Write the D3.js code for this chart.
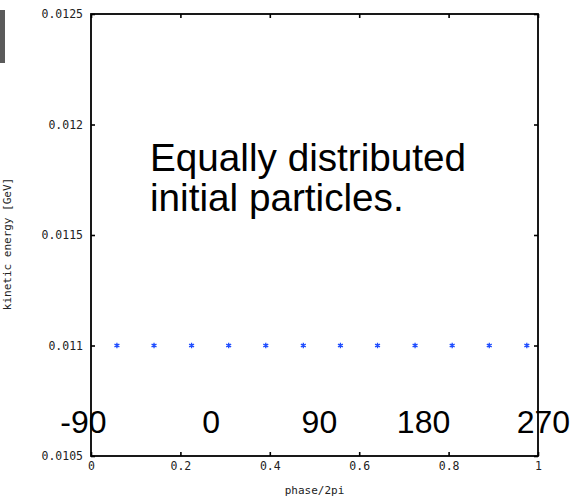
<!DOCTYPE html>
<html>
<head>
<meta charset="utf-8">
<script src="https://cdn.jsdelivr.net/npm/d3@7"></script>
<style>
  body { margin: 0; background: #fff; }
  .tick text { font-family: "DejaVu Sans Mono", monospace; font-size: 11.5px; fill: #222; }
  .axTitle { font-family: "DejaVu Sans Mono", monospace; font-size: 11px; fill: #222; }
  .big { font-family: "Liberation Sans", Arial, sans-serif; fill: #000; }
</style>
</head>
<body>
<div id="chart"></div>
<script>
// particle phases (phase/2pi) and kinetic energy [GeV]
var phase = [0.058, 0.141, 0.225, 0.308, 0.391, 0.475, 0.558, 0.641, 0.725, 0.808, 0.891, 0.975];
var energy = [0.011, 0.011, 0.011, 0.011, 0.011, 0.011, 0.011, 0.011, 0.011, 0.011, 0.011, 0.011];

var xTicks = [0, 0.2, 0.4, 0.6, 0.8, 1];
var xTickLabels = ["0", "0.2", "0.4", "0.6", "0.8", "1"];
var yTicks = [0.0105, 0.011, 0.0115, 0.012, 0.0125];
var yTickLabels = ["0.0105", "0.011", "0.0115", "0.012", "0.0125"];

// degree labels along the bottom, anchored at a phase value
var degLabels = ["-90", "0", "90", "180", "270"];
var degAnchor = [-0.017, 0.269, 0.511, 0.744, 1.012];

var width = 572, height = 500;
var margin = {left: 91, right: 34, top: 14, bottom: 44};

var svg = d3.select("#chart").append("svg")
  .attr("width", width)
  .attr("height", height);

var x = d3.scaleLinear()
  .domain([0, 1])
  .range([margin.left, width - margin.right]);

var y = d3.scaleLinear()
  .domain([0.0105, 0.0125])
  .range([height - margin.bottom, margin.top]);

// grey bar top left
svg.append("rect")
  .attr("x", 0).attr("y", 10)
  .attr("width", 5).attr("height", 53)
  .attr("fill", "#5a5a5a");

var xAxis = d3.axisBottom(x).tickValues(xTicks)
  .tickFormat(function(d, i) { return xTickLabels[i]; })
  .tickSizeInner(-4).tickSizeOuter(0).tickPadding(6);
var yAxis = d3.axisLeft(y).tickValues(yTicks)
  .tickFormat(function(d, i) { return yTickLabels[i]; })
  .tickSizeInner(-4).tickSizeOuter(0).tickPadding(8);

svg.append("g")
  .attr("transform", "translate(0," + y.range()[0] + ")")
  .call(xAxis);
svg.append("g")
  .attr("transform", "translate(0," + y.range()[1] + ")")
  .call(d3.axisTop(x).tickValues(xTicks).tickFormat("").tickSizeInner(-4).tickSizeOuter(0));
svg.append("g")
  .attr("transform", "translate(" + x.range()[0] + ",0)")
  .call(yAxis);
svg.append("g")
  .attr("transform", "translate(" + x.range()[1] + ",0)")
  .call(d3.axisRight(y).tickValues(yTicks).tickFormat("").tickSizeInner(-4).tickSizeOuter(0));

svg.selectAll(".domain").remove();
svg.selectAll(".tick line").attr("stroke", "#000").attr("stroke-width", 1.6);

// frame
svg.append("rect")
  .attr("x", x.range()[0]).attr("y", y.range()[1])
  .attr("width", x.range()[1] - x.range()[0])
  .attr("height", y.range()[0] - y.range()[1])
  .attr("fill", "none")
  .attr("stroke", "#000")
  .attr("stroke-width", 1.8);

// axis titles
svg.append("text")
  .attr("class", "axTitle")
  .attr("x", (x.range()[0] + x.range()[1]) / 2)
  .attr("y", 494)
  .attr("text-anchor", "middle")
  .text("phase/2pi");

svg.append("text")
  .attr("class", "axTitle")
  .attr("transform", "translate(11,244) rotate(-90)")
  .attr("text-anchor", "middle")
  .text("kinetic energy [GeV]");

// particles
var sym = d3.symbol().type(d3.symbolAsterisk).size(22);
svg.selectAll(".pt")
  .data(phase)
  .enter().append("path")
  .attr("class", "pt")
  .attr("d", sym)
  .attr("transform", function(d, i) { return "translate(" + x(d) + "," + y(energy[i]) + ")"; })
  .attr("fill", "none")
  .attr("stroke", "#1f4dff")
  .attr("stroke-width", 1.3);

// annotation
var note = svg.append("text")
  .attr("class", "big")
  .attr("x", 150)
  .attr("y", 171)
  .style("font-size", "38.7px");
note.append("tspan").attr("x", 150).text("Equally distributed");
note.append("tspan").attr("x", 150).attr("dy", 40).text("initial particles.");

svg.selectAll(".deg")
  .data(degLabels)
  .enter().append("text")
  .attr("class", "big deg")
  .attr("x", function(d, i) { return x(degAnchor[i]); })
  .attr("y", 433)
  .attr("text-anchor", "middle")
  .style("font-size", "32px")
  .text(function(d) { return d; });
</script>
</body>
</html>
